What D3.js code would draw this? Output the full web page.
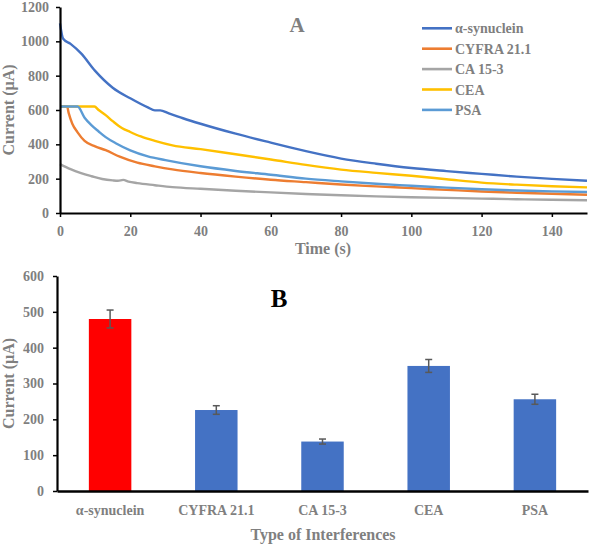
<!DOCTYPE html>
<html>
<head>
<meta charset="utf-8">
<script src="https://cdn.jsdelivr.net/npm/d3@7"></script>
<style>
  html, body { margin: 0; padding: 0; background: #fff; }
  svg, svg text { font-family: "Liberation Serif", "Times New Roman", serif !important; }
  svg { display: block; }
</style>
</head>
<body>
<svg id="chart" width="590" height="544"></svg>
<script>
// ---------- Panel A data: chronoamperometric current (µA) vs time (s) ----------
const seriesNames = ["α-synuclein", "CYFRA 21.1", "CA 15-3", "CEA", "PSA"];
const seriesColors = ["#4472C4", "#ED7D31", "#A5A5A5", "#FFC000", "#5B9BD5"];

const alphaSynuclein = [[0,1105],[0.9,1015],[3,985],[6,930],[10,828],[15,730],[20,668],[25,615],[27,598],[28.5,598],[31,580],[35,552],[40,520],[50,462],[60,410],[70,360],[80,317],[90,287],[100,262],[110,244],[120,228],[130,212],[140,199],[150,188]];
const cyfra211 = [[0,620],[2,620],[2.5,580],[3.5,520],[5,470],[7,420],[10,388],[13,366],[17,328],[22,293],[27,272],[32,254],[40,233],[50,212],[60,194],[70,180],[80,166],[90,155],[100,145],[110,135],[120,125],[130,118],[140,112],[150,106]];
const ca153 = [[0,285],[3,255],[6,232],[9,214],[12,198],[15,190],[16.5,188],[18,193],[19.5,183],[22,174],[27,162],[32,151],[40,141],[50,130],[60,120],[70,111],[80,103],[90,97],[100,92],[110,88],[120,84],[130,80],[140,77],[150,74]];
const cea = [[0,620],[9.8,620],[11,600],[13,570],[15,535],[17.6,495],[20,472],[23,446],[27,420],[32,394],[40,372],[50,342],[60,312],[70,280],[80,253],[90,234],[100,217],[110,197],[120,177],[130,165],[140,156],[150,149]];
const psa = [[0,620],[5,620],[7,555],[9,510],[11,475],[13,442],[16,405],[20,365],[25,330],[30,308],[40,272],[50,245],[60,223],[70,200],[80,184],[90,170],[100,159],[110,148],[120,138],[130,131],[140,126],[150,122]];
const lineSeries = [alphaSynuclein, cyfra211, ca153, cea, psa];

const timeTicks = [0, 20, 40, 60, 80, 100, 120, 140];
const currentTicksA = [0, 200, 400, 600, 800, 1000, 1200];

// ---------- Panel B data: interference study ----------
const categories = ["α-synuclein", "CYFRA 21.1", "CA 15-3", "CEA", "PSA"];
const barValues = [480, 226, 138, 349, 256];
const barErrors = [25, 12, 7, 18, 14];
const barColors = ["#FF0000", "#4472C4", "#4472C4", "#4472C4", "#4472C4"];
const currentTicksB = [0, 100, 200, 300, 400, 500, 600];

const svg = d3.select("#chart");
const gray = "#7F7F7F";

function styleAxis(g, fontSize) {
  g.attr("font-family", null).attr("font-size", null);
  g.selectAll("path.domain").attr("stroke", "#000").attr("stroke-width", 2.2);
  g.selectAll(".tick line").attr("stroke", "#000").attr("stroke-width", 1.5);
  g.selectAll(".tick text")
    .attr("fill", gray)
    .attr("font-weight", "bold")
    .attr("font-size", fontSize);
}

// ================= Panel A =================
const xA = d3.scaleLinear().domain([0, 150]).range([60, 587]);
const yA = d3.scaleLinear().domain([0, 1200]).range([213, 7]);

const gA = svg.append("g");

const line = d3.line()
  .x(d => xA(d[0]))
  .y(d => yA(d[1]))
  .curve(d3.curveMonotoneX);

lineSeries.forEach((s, i) => {
  gA.append("path")
    .datum(s)
    .attr("d", line)
    .attr("fill", "none")
    .attr("stroke", seriesColors[i])
    .attr("stroke-width", 2.4)
    .attr("stroke-linejoin", "round");
});

const xAxisA = gA.append("g")
  .attr("transform", `translate(0,${yA(0)})`)
  .call(d3.axisBottom(xA).tickValues(timeTicks).tickFormat(d3.format("d")).tickSize(4).tickSizeOuter(0).tickPadding(9));
styleAxis(xAxisA, 14);

const yAxisA = gA.append("g")
  .attr("transform", `translate(${xA(0)},0)`)
  .call(d3.axisLeft(yA).tickValues(currentTicksA).tickFormat(d3.format("d")).tickSize(4).tickSizeOuter(0).tickPadding(7));
styleAxis(yAxisA, 14);

gA.append("text")
  .attr("x", 323).attr("y", 254)
  .attr("text-anchor", "middle")
  .attr("font-size", 16).attr("font-weight", "bold").attr("fill", gray)
  .text("Time (s)");

gA.append("text")
  .attr("transform", `translate(14,${(yA(0) + yA(1200)) / 2}) rotate(-90)`)
  .attr("text-anchor", "middle")
  .attr("font-size", 16).attr("font-weight", "bold").attr("fill", gray)
  .text("Current (µA)");

gA.append("text")
  .attr("x", 297).attr("y", 32)
  .attr("text-anchor", "middle")
  .attr("font-size", 21).attr("font-weight", "bold").attr("fill", gray)
  .text("A");

// legend
const legend = gA.append("g");
seriesNames.forEach((n, i) => {
  const y = 28.3 + i * 20.4;
  legend.append("line")
    .attr("x1", 422).attr("x2", 452).attr("y1", y).attr("y2", y)
    .attr("stroke", seriesColors[i]).attr("stroke-width", 2.6);
  legend.append("text")
    .attr("x", 455).attr("y", y + 5)
    .attr("font-size", 14).attr("font-weight", "bold").attr("fill", gray)
    .text(n);
});

// ================= Panel B =================
const xB = d3.scaleBand().domain(categories).range([57, 588]).paddingInner(0.6).paddingOuter(0.3);
const yB = d3.scaleLinear().domain([0, 600]).range([491, 276]);

const gB = svg.append("g");

gB.selectAll("rect.bar")
  .data(categories)
  .join("rect")
  .attr("class", "bar")
  .attr("x", d => xB(d))
  .attr("width", xB.bandwidth())
  .attr("y", (d, i) => yB(barValues[i]))
  .attr("height", (d, i) => yB(0) - yB(barValues[i]))
  .attr("fill", (d, i) => barColors[i]);

// error bars
categories.forEach((c, i) => {
  const cx = xB(c) + xB.bandwidth() / 2;
  const top = yB(barValues[i] + barErrors[i]);
  const bot = yB(barValues[i] - barErrors[i]);
  const eg = gB.append("g").attr("stroke", "#595959").attr("stroke-width", 1.5);
  eg.append("line").attr("x1", cx).attr("x2", cx).attr("y1", top).attr("y2", bot);
  eg.append("line").attr("x1", cx - 3.5).attr("x2", cx + 3.5).attr("y1", top).attr("y2", top);
  eg.append("line").attr("x1", cx - 3.5).attr("x2", cx + 3.5).attr("y1", bot).attr("y2", bot);
});

const yAxisB = gB.append("g")
  .attr("transform", `translate(57,0)`)
  .call(d3.axisLeft(yB).tickValues(currentTicksB).tickFormat(d3.format("d")).tickSize(4).tickSizeOuter(0).tickPadding(9));
styleAxis(yAxisB, 14);

const xAxisB = gB.append("g")
  .attr("transform", `translate(0,${yB(0)})`)
  .call(d3.axisBottom(xB).tickSize(0).tickSizeOuter(0).tickPadding(14));
styleAxis(xAxisB, 14);
xAxisB.select("path.domain").attr("stroke-width", 2.6);

gB.append("text")
  .attr("x", 323).attr("y", 540)
  .attr("text-anchor", "middle")
  .attr("font-size", 16).attr("font-weight", "bold").attr("fill", gray)
  .text("Type of Interferences");

gB.append("text")
  .attr("transform", `translate(14,${(yB(0) + yB(600)) / 2}) rotate(-90)`)
  .attr("text-anchor", "middle")
  .attr("font-size", 16).attr("font-weight", "bold").attr("fill", gray)
  .text("Current (µA)");

gB.append("text")
  .attr("x", 279).attr("y", 307)
  .attr("text-anchor", "middle")
  .attr("font-size", 25).attr("font-weight", "bold").attr("fill", "#000")
  .text("B");
</script>
</body>
</html>
